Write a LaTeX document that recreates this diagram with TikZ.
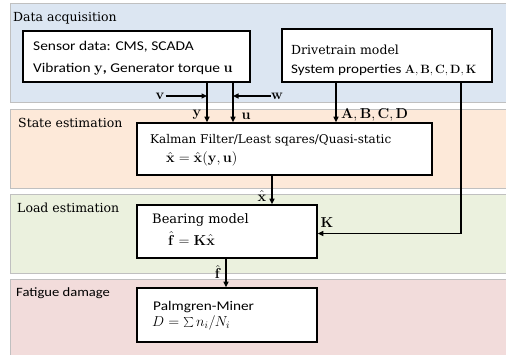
\documentclass[tikz,border=0pt]{standalone}
\usepackage[no-math]{fontspec}
\setmainfont{DejaVu Serif}
\newfontfamily\calib{Carlito}[FakeStretch=1.15]
\usetikzlibrary{arrows.meta,shadows}
\definecolor{bandA}{HTML}{DCE6F2}
\definecolor{bandB}{HTML}{FDE9D9}
\definecolor{bandC}{HTML}{EBF1DE}
\definecolor{bandD}{HTML}{F2DCDB}
\definecolor{bandline}{HTML}{C0C0C0}
\tikzset{
  band/.style={draw=bandline, line width=0.8pt},
  box/.style={draw=black, fill=white, line width=1.6pt, inner sep=0pt,
    drop shadow={shadow xshift=1pt, shadow yshift=-1pt, opacity=0.35}},
  txt/.style={anchor=base west, inner sep=0pt, font=\fontsize{12.5}{15}\selectfont},
  stxt/.style={anchor=base west, inner sep=0pt, font=\fontsize{13.3}{16}\selectfont\calib},
  mtxt/.style={anchor=base west, inner sep=0pt, font=\fontsize{14.5}{17}\selectfont},
  lbl/.style={inner sep=0pt, font=\fontsize{14}{16}\selectfont},
  arr/.style={line width=1.6pt, -{Triangle[length=5.5pt,width=5pt]}},
}
\begin{document}
\begin{tikzpicture}[x=1pt,y=-1pt]
\useasboundingbox (0,0) rectangle (506,354);
% bands
\path[band, fill=bandA] (10,3) rectangle (507,102);
\path[band, fill=bandB] (10,109) rectangle (507,188);
\path[band, fill=bandC] (10,194) rectangle (507,273);
\path[band, fill=bandD] (10,279) rectangle (507,355);
\node[txt] (tA) at (13,21) {Data acquisition};
\node[txt] (tB) at (18,127) {State estimation};
\node[txt] (tC) at (17,212) {Load estimation};
\node[stxt, font=\fontsize{12.7}{15}\selectfont\calib] (tD) at (16,296) {Fatigue damage};
% boxes
\node[box, minimum width=227pt, minimum height=51pt] (sensor) at (136.5,56.5) {};
\node[box, minimum width=210pt, minimum height=53pt] (drive) at (387,55.5) {};
\node[box, minimum width=295pt, minimum height=52pt] (kalman) at (284.5,149) {};
\node[box, minimum width=180pt, minimum height=53pt] (bearing) at (227,231.5) {};
\node[box, minimum width=180pt, minimum height=54pt] (palm) at (227,315) {};
% box texts
\node[stxt, font=\fontsize{13.4}{16}\selectfont\calib] (s1) at (33,50.5) {Sensor data: CMS, SCADA};
\node[stxt, font=\fontsize{13.4}{16}\selectfont\calib] (s2) at (33,72) {Vibration {\fontsize{13.5}{16}\selectfont$\mathbf{y}$\textbf{,}} Generator torque {\fontsize{13.5}{16}\selectfont$\mathbf{u}$}};
\node[txt] (d1) at (291,54) {Drivetrain model};
\node[stxt, font=\fontsize{13.1}{16}\selectfont\calib] (d2) at (291,73) {System properties {\fontsize{12.8}{16}\selectfont$\mathbf{A},\mathbf{B},\mathbf{C},\mathbf{D},\mathbf{K}$}};
\node[txt, font=\fontsize{12}{15}\selectfont] (k1) at (150,143) {Kalman Filter/Least sqares/Quasi-static};
\node[mtxt] (k2) at (166,162.5) {$\hat{\mathbf{x}}=\hat{\mathbf{x}}(\mathbf{y},\mathbf{u})$};
\node[txt, font=\fontsize{13}{15}\selectfont] (b1) at (152,223.5) {Bearing model};
\node[mtxt, font=\fontsize{15}{17}\selectfont] (b2) at (168,245) {$\hat{\mathbf{f}}=\mathbf{K}\hat{\mathbf{x}}$};
\node[stxt] (p1) at (153,310) {Palmgren-Miner};
\node[mtxt, font=\fontsize{14}{17}\selectfont] (p2) at (152,326) {$D=\sum n_i/N_i$};
% x positions
\coordinate (xy) at (207,0);
\coordinate (xu) at (233,0);
\coordinate (xabcd) at (336,0);
\coordinate (xK) at (461,0);
\coordinate (xxh) at (272,0);
\coordinate (xfh) at (226,0);
% arrows
\draw[arr] (sensor.south -| xy) -- (kalman.north -| xy);
\draw[arr] (sensor.south -| xu) -- (kalman.north -| xu);
\node[lbl] (v) at (160,96) {$\mathbf{v}$};
\node[lbl] (w) at (277,96) {$\mathbf{w}$};
\draw[arr] (v.east) ++(1,0) -- (v.east -| xy);
\draw[arr] (w.west) -- (w.west -| xu);
\node[lbl] (ly) at (197,115) {$\mathbf{y}$};
\node[lbl] (lu) at (246,116) {$\mathbf{u}$};
\draw[arr] (drive.south -| xabcd) -- (kalman.north -| xabcd);
\node[lbl, anchor=west] (labcd) at (341,115) {$\mathbf{A},\mathbf{B},\mathbf{C},\mathbf{D}$};
\draw[arr] (drive.south -| xK) |- ([yshift=-2pt]bearing.east);
\node[lbl] (lK) at (327,223) {$\mathbf{K}$};
\draw[arr] (kalman.south -| xxh) -- (bearing.north -| xxh);
\node[lbl] (lxh) at (262,196) {$\hat{\mathbf{x}}$};
\draw[arr] (bearing.south -| xfh) -- (palm.north -| xfh);
\node[lbl] (lfh) at (218,272) {$\hat{\mathbf{f}}$};
\end{tikzpicture}
\end{document}
